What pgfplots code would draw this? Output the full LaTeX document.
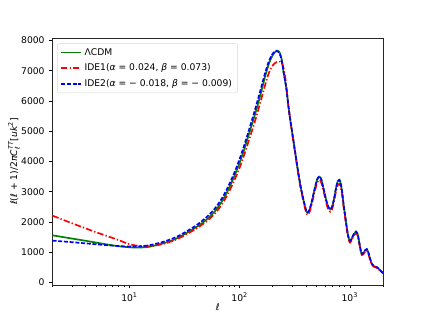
\documentclass[border=0pt]{standalone}
\usepackage{amsmath}
\usepackage{fontspec}
\setmainfont{DejaVu Sans}
\usepackage{pgfplots}
\usepackage{pgfplotstable}
\pgfplotsset{compat=1.18}

\newcommand{\fs}{\fontsize{6.9}{8.3}\selectfont}
\newcommand{\vi}[1]{{\itshape #1}}

% LCDM
\pgfplotstableread{
l D
2 1560
3 1455
4 1380
5 1320
6 1270
8 1200
10 1165
12 1155
15 1180
20 1290
25 1410
30 1550
40 1820
50 2080
60 2370
70 2720
80 3120
90 3540
100 3960
110 4400
120 4850
135 5450
150 6030
170 6800
185 7250
200 7520
212 7630
222 7655
232 7580
242 7330
250 6950
265 6420
277 5820
290 5300
307 4700
325 4100
341 3600
360 3110
379 2730
395 2460
405 2340
412 2310
422 2330
435 2450
450 2650
480 3100
505 3400
528 3500
550 3410
580 3060
620 2620
645 2460
665 2420
690 2500
720 2780
750 3130
775 3340
800 3390
820 3320
850 3000
880 2530
900 2290
930 1900
960 1580
985 1420
1003 1370
1030 1420
1080 1580
1138 1680
1180 1580
1230 1230
1260 1030
1285 945
1320 960
1380 1070
1425 1100
1470 1000
1520 800
1580 620
1640 550
1700 525
1758 505
1820 460
1900 390
1960 340
2000 310
}\tlcdm

% IDE1
\pgfplotstableread{
l D
2 2210
3 1960
4 1790
5 1660
6 1560
8 1400
10 1265
12 1215
15 1200
20 1270
25 1385
30 1515
40 1775
50 2020
60 2290
70 2620
80 3000
90 3400
100 3800
110 4220
120 4650
135 5230
150 5800
170 6520
185 6950
200 7180
215 7280
233 7300
245 7200
255 6950
265 6500
277 5820
290 5270
307 4660
325 4060
341 3550
360 3060
379 2680
395 2400
405 2270
412 2240
422 2260
435 2380
450 2580
480 3010
505 3300
528 3390
550 3310
580 2980
620 2540
645 2380
665 2340
690 2420
720 2690
750 3030
775 3220
800 3260
820 3200
850 2900
880 2440
900 2220
930 1840
960 1530
985 1370
1003 1320
1030 1370
1080 1530
1138 1630
1180 1540
1230 1190
1260 1000
1285 910
1320 925
1380 1030
1425 1060
1470 965
1520 775
1580 600
1640 530
1700 505
1758 485
1820 440
1900 375
1960 330
2000 300
}\tideone

% IDE2
\pgfplotstableread{
l D
2 1385
3 1335
4 1295
5 1265
6 1240
8 1205
10 1190
12 1195
15 1230
20 1340
25 1465
30 1605
40 1880
50 2160
60 2460
70 2820
80 3230
90 3650
100 4090
110 4540
120 4980
135 5600
150 6190
170 6920
185 7330
200 7570
214 7660
225 7620
235 7480
245 7180
250 6960
265 6420
277 5820
290 5300
307 4710
325 4110
341 3610
360 3120
379 2740
395 2470
405 2350
412 2320
422 2340
435 2460
450 2660
480 3110
505 3410
528 3505
550 3415
580 3065
620 2625
645 2465
665 2425
690 2505
720 2785
750 3135
775 3345
800 3395
820 3325
850 3005
880 2535
900 2295
930 1905
960 1585
985 1425
1003 1375
1030 1425
1080 1585
1138 1685
1180 1585
1230 1235
1260 1035
1285 950
1320 965
1380 1075
1425 1105
1470 1005
1520 805
1580 625
1640 555
1700 528
1758 508
1820 462
1900 392
1960 342
2000 312
}\tidetwo

\definecolor{mplgreen}{rgb}{0,0.5,0}

\begin{document}
\begin{tikzpicture}[font=\fs]
\begin{axis}[
    scale only axis,
    width=247.9pt, height=185.25pt,
    xmode=log,
    xmin=2, xmax=2000,
    ymin=-80, ymax=8080,
    xtick={10,100,1000},
    xticklabels={10$^{\text{1}}$,10$^{\text{2}}$,10$^{\text{3}}$},
    minor xtick={2,3,4,5,6,7,8,9,20,30,40,50,60,70,80,90,200,300,400,500,600,700,800,900,2000},
    ytick={0,1000,2000,3000,4000,5000,6000,7000,8000},
    /pgf/number format/assume math mode=true,
    /pgf/number format/set thousands separator={},
    tick label style={font=\fs},
    tick pos=left,
    tick align=outside,
    major tick length=2.4pt,
    minor tick length=1.4pt,
    every tick/.style={black, line width=0.55pt},
    axis line style={line width=0.55pt, black!85},
    xlabel={\vi{ℓ}},
    ylabel={\vi{ℓ}(\vi{ℓ} + 1)/2\vi{π}\vi{C}$_{\text{\vi{ℓ}}}^{\text{\vi{TT}}}$[\vi{uk}$^{\text{2}}$]},
    label style={font=\fs},
    x label style={at={(axis description cs:0.5,-0.088)}, anchor=center},
    y label style={at={(axis description cs:-0.1165,0.5)}, anchor=center},
    legend style={at={(axis description cs:0.0145,0.9785)}, anchor=north west,
        draw=black!15, rounded corners=1.5pt, font=\fs,
        inner xsep=2pt, inner ysep=1.5pt, row sep=0.9pt},
    legend cell align=left,
    legend image code/.code={\draw[#1] (0pt,0pt) -- (15pt,0pt);},
]
\addplot[mplgreen, line width=1.25pt, smooth, tension=0.4] table[x=l, y=D] {\tlcdm};
\addplot[red, line width=1.25pt, smooth, tension=0.4, dash pattern=on 4.8pt off 1.6pt on 1pt off 1.6pt] table[x=l, y=D] {\tideone};
\addplot[blue, line width=1.25pt, smooth, tension=0.4, dash pattern=on 3pt off 1.3pt] table[x=l, y=D] {\tidetwo};
\legend{ΛCDM, {IDE1(\vi{α} = 0.024, \vi{β} = 0.073)}, {IDE2(\vi{α} = − 0.018, \vi{β} = − 0.009)}}
\end{axis}
\path (current axis.south west) ++(-39.375pt,-26.25pt) rectangle ++(319.5pt,240pt);
\end{tikzpicture}
\end{document}
